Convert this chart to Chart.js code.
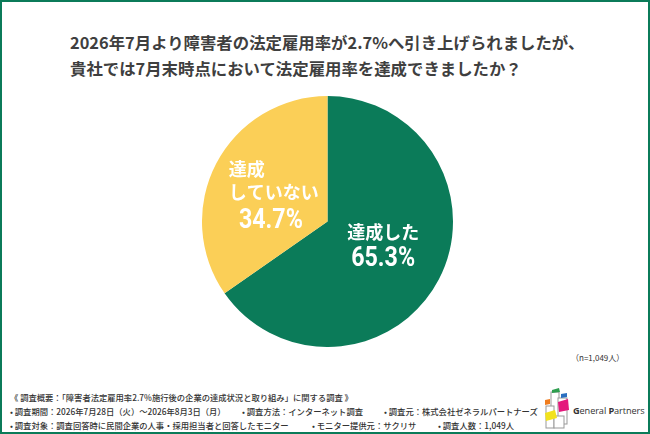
<!DOCTYPE html>
<html lang="ja">
<head>
<meta charset="utf-8">
<script src="https://cdn.jsdelivr.net/npm/chart.js@4/dist/chart.umd.min.js"></script>
<style>
  html, body { margin:0; padding:0; background:#fff; }
  #frame { position:absolute; left:0; top:0; width:650px; height:434px; box-sizing:border-box; border:2.5px solid #0b7b59; overflow:hidden; font-family:"Noto Sans CJK JP", "Noto Sans", sans-serif; }
  #title { position:absolute; left:68px; top:27px; font-size:16.4px; line-height:26px; font-weight:bold; color:#3f3f3f; white-space:nowrap; }
  #chartBox { position:absolute; left:200px; top:94px; width:251px; height:251px; }
  #note { position:absolute; left:569px; top:350px; font-size:8px; color:#333; white-space:nowrap; }
  .foot { position:absolute; font-size:8.3px; font-weight:500; color:#333; white-space:nowrap; line-height:12px; }
  #logoText { position:absolute; left:571px; top:402px; font-family:"Open Sans", "Noto Sans", sans-serif; font-size:9.2px; color:#333; white-space:nowrap; letter-spacing:-0.1px; }
  #logoText b { font-weight:bold; }
</style>
</head>
<body>
<div id="frame">
  <div id="title">2026年7月より障害者の法定雇用率が2.7%へ引き上げられましたが、<br>貴社では7月末時点において法定雇用率を達成できましたか？</div>
  <div id="chartBox"><canvas id="c"></canvas></div>
  <div id="note">（n=1,049人）</div>
  <div class="foot" style="left:8px;top:389px;">《 調査概要：「障害者法定雇用率2.7%施行後の企業の達成状況と取り組み」に関する調査 》</div>
  <div class="foot" style="left:8px;top:403px;">• 調査期間：2026年7月28日（火）～2026年8月3日（月）</div>
  <div class="foot" style="left:240px;top:403px;">• 調査方法：インターネット調査</div>
  <div class="foot" style="left:382px;top:403px;">• 調査元：株式会社ゼネラルパートナーズ</div>
  <div class="foot" style="left:8px;top:417px;">• 調査対象：調査回答時に民間企業の人事・採用担当者と回答したモニター</div>
  <div class="foot" style="left:310px;top:417px;">• モニター提供元：サクリサ</div>
  <div class="foot" style="left:436px;top:417px;">• 調査人数：1,049人</div>
  <svg style="position:absolute;left:540px;top:384px;" width="30" height="46" viewBox="0 0 30 46">
    <g fill="#fff" stroke="#999" stroke-width="1">
      <rect x="9" y="6" width="8" height="28"/>
      <rect x="16" y="12" width="9" height="26"/>
      <rect x="4" y="20" width="8" height="22"/>
      <rect x="12" y="30" width="10" height="12"/>
    </g>
    <polygon points="10,4 17,2 18,6 10,7" fill="#2e9e4f"/>
    <polygon points="19,8 25,7 25,11 19,12" fill="#2a6fc0"/>
    <polygon points="3,14 8,13 8,18 3,19" fill="#f07d1e"/>
    <polygon points="16,16 26,13 27,24 17,26" fill="#e4197c"/>
    <polygon points="3,27 13,24 15,32 4,35" fill="#f2e21c"/>
  </svg>
  <div id="logoText"><b>G</b>eneral <b>P</b>artners</div>
</div>
<script>
const categories = ["達成した", "達成していない"];
const values = [65.3, 34.7];
const labelLines = [["達成した"], ["達成", "していない"]];
const valueLabels = ["65.3%", "34.7%"];
const colors = ["#0b7b59", "#fbcf57"];

function drawNarrow(ctx, text, x, y, sx) {
  ctx.save();
  ctx.translate(x, y);
  ctx.scale(sx, 1);
  ctx.textAlign = "center";
  ctx.fillText(text, 0, 0);
  ctx.restore();
}

const labelPlugin = {
  id: "sliceLabels",
  afterDatasetsDraw(chart) {
    const ctx = chart.ctx;
    const meta = chart.getDatasetMeta(0);
    ctx.save();
    ctx.fillStyle = "#fff";
    ctx.textBaseline = "middle";
    const jp = "bold 18px 'Noto Sans CJK JP', sans-serif";
    const num = "bold 28px Roboto, sans-serif";
    meta.data.forEach((arc, i) => {
      const p = arc.getCenterPoint();
      const lines = labelLines[i];
      if (i === 0) {
        ctx.textAlign = "center";
        ctx.font = jp;
        ctx.fillText(lines[0], p.x, p.y - 18);
        ctx.font = num;
        drawNarrow(ctx, valueLabels[i], p.x, p.y + 8, 0.83);
      } else {
        ctx.textAlign = "left";
        ctx.font = jp;
        ctx.fillText(lines[0], p.x - 43, p.y - 23.5);
        ctx.fillText(lines[1], p.x - 43, p.y - 0.5);
        ctx.font = num;
        drawNarrow(ctx, valueLabels[i], p.x - 1, p.y + 28.5, 0.83);
      }
    });
    ctx.restore();
  }
};

new Chart(document.getElementById("c"), {
  type: "pie",
  data: {
    labels: categories,
    datasets: [{ data: values, backgroundColor: colors, borderWidth: 0 }]
  },
  options: {
    responsive: true,
    maintainAspectRatio: false,
    animation: false,
    layout: { padding: 0 },
    plugins: { legend: { display: false }, tooltip: { enabled: false } }
  },
  plugins: [labelPlugin]
});
</script>
</body>
</html>
